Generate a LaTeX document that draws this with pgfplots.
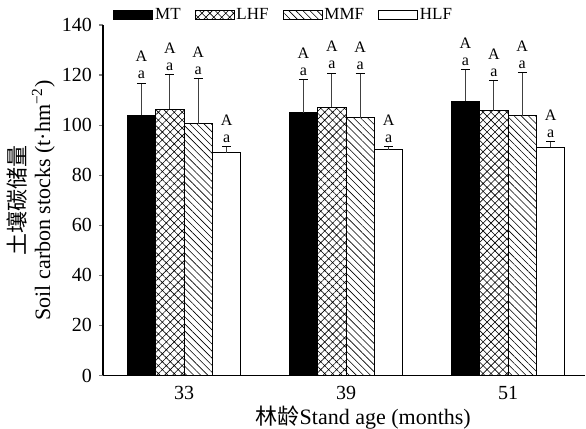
\documentclass[border=0pt]{standalone}
\usepackage{fontspec}
\setmainfont{Liberation Serif}
\newfontfamily\cjk{Noto Sans CJK SC}
\usepackage{pgfplots}
\pgfplotsset{compat=1.18}
\usetikzlibrary{patterns.meta}

\pgfplotsset{
  legbox/.style={legend image code/.code={\draw[##1,line width=0.4pt] (0pt,-2.25pt) rectangle (19.5pt,2.25pt);}},
}

\begin{document}
\begin{tikzpicture}
\useasboundingbox (-51.5pt,-26.75pt) rectangle (241.5pt,187.75pt);
\begin{axis}[
    at={(0,0)}, anchor=south west,
    scale only axis,
    width=241pt, height=175.25pt,
    xmin=-0.5, xmax=2.475,
    ymin=0, ymax=140,
    ytick={0,20,...,140},
    xtick={0,1,2},
    xticklabels={33,39,51},
    axis x line*=bottom,
    axis y line*=left,
    axis line style={-, line width=0.6pt},
    xtick style={draw=none},
    ytick style={line width=0.6pt},
    tick align=outside,
    major tick length=2pt,
    /pgf/number format/assume math mode=true,
    tick label style={font=\fontsize{10}{12}\selectfont},
    bar width=0.1755,
    xlabel={{\cjk 林龄}Stand age (months)},
    xlabel style={at={(axis description cs:0.54,0)}, anchor=base, yshift=-24.7pt,
      font=\fontsize{11}{12.5}\selectfont},
    ylabel={{\cjk 土壤碳储量}\\Soil carbon stocks (t·hm\textsuperscript{−2})},
    ylabel style={at={(axis description cs:-0.1504,0.5)}, anchor=center, align=center,
      font=\fontsize{11}{12.5}\selectfont},
    legend columns=-1,
    legend style={draw=none, fill=none, inner sep=0pt,
      at={(axis description cs:0,1)}, anchor=west, xshift=5pt, yshift=5pt,
      font=\fontsize{8.5}{10}\selectfont,
      nodes={inner xsep=1pt, inner ysep=0pt},
      /tikz/every even column/.append style={column sep=6pt}},
]

\addplot[ybar, bar shift=-0.26325, fill=black, draw=black, line width=0.5pt, legbox]
  coordinates {(0,103.9) (1,105.0) (2,109.5)};
\addlegendentry{MT}

\addplot[ybar, bar shift=-0.08775, fill=white, draw=black, line width=0.5pt,
  pattern={Hatch[angle=45,distance=2.8pt,line width=0.3pt]}, legbox]
  coordinates {(0,106.3) (1,107.2) (2,105.8)};
\addlegendentry{LHF}

\addplot[ybar, bar shift=0.08775, fill=white, draw=black, line width=0.5pt,
  pattern={Lines[angle=-45,distance=2.5pt,line width=0.3pt]}, legbox]
  coordinates {(0,100.6) (1,103.0) (2,103.8)};
\addlegendentry{MMF}

\addplot[ybar, bar shift=0.26325, fill=white, draw=black, line width=0.5pt, legbox]
  coordinates {(0,89.0) (1,90.2) (2,91.1)};
\addlegendentry{HLF}

% upper error bars, one per bar (x = group + bar shift)
\addplot[forget plot, only marks, mark=*, mark size=0pt, mark options={draw=none, fill=none},
  error bars/.cd, y dir=plus, y explicit,
  error bar style={line width=0.45pt, black!75},
  error mark options={rotate=90, mark size=2.25pt, line width=0.5pt, black}]
  coordinates {
    (-0.26325,103.9) +- (0,12.9) (-0.08775,106.3) +- (0,13.8) (0.08775,100.6) +- (0,18.1) (0.26325,89.0) +- (0,2.4)
    (0.73675,105.0) +- (0,13.1) (0.91225,107.2) +- (0,13.6) (1.08775,103.0) +- (0,17.7) (1.26325,90.2) +- (0,1.3)
    (1.73675,109.5) +- (0,12.8) (1.91225,105.8) +- (0,12.1) (2.08775,103.8) +- (0,17.1) (2.26325,91.1) +- (0,2.2)
  };

% significance letters above the error bars
\addplot[forget plot, only marks, mark=*, mark size=0pt, mark options={draw=none, fill=none},
  nodes near coords={A\\a},
  every node near coord/.append style={align=center, anchor=south, inner sep=0pt,
    yshift=1.8pt, font=\fontsize{8}{8.5}\selectfont}]
  coordinates {
    (-0.26325,116.8) (-0.08775,120.1) (0.08775,118.7) (0.26325,91.4)
    (0.73675,118.1) (0.91225,120.8) (1.08775,120.7) (1.26325,91.5)
    (1.73675,122.3) (1.91225,117.9) (2.08775,120.9) (2.26325,93.3)
  };

\end{axis}
\end{tikzpicture}
\end{document}
